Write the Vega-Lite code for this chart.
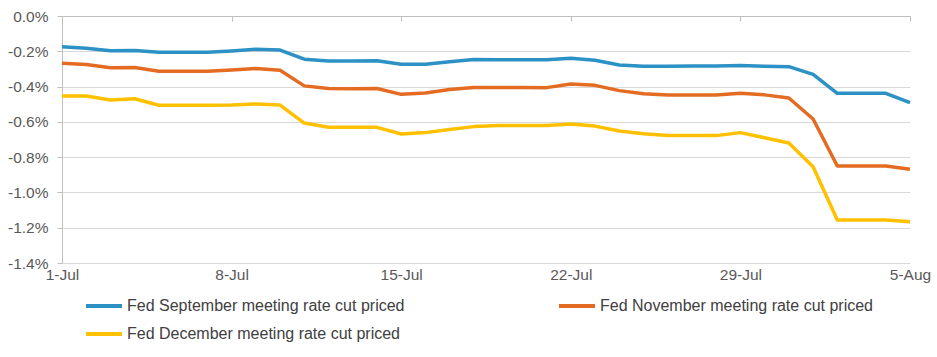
{
  "$schema": "https://vega.github.io/schema/vega-lite/v6.json",
  "width": 848,
  "height": 247,
  "autosize": {"type": "none"},
  "padding": {"left": 62, "top": 16, "right": 27, "bottom": 94},
  "config": {
    "view": {"stroke": null},
    "font": "Liberation Sans"
  },
  "data": {
    "values": [
      {"date": "2024-07-01", "series": "Fed September meeting rate cut priced", "value": -0.174},
      {"date": "2024-07-02", "series": "Fed September meeting rate cut priced", "value": -0.183},
      {"date": "2024-07-03", "series": "Fed September meeting rate cut priced", "value": -0.197},
      {"date": "2024-07-04", "series": "Fed September meeting rate cut priced", "value": -0.196},
      {"date": "2024-07-05", "series": "Fed September meeting rate cut priced", "value": -0.206},
      {"date": "2024-07-06", "series": "Fed September meeting rate cut priced", "value": -0.206},
      {"date": "2024-07-07", "series": "Fed September meeting rate cut priced", "value": -0.206},
      {"date": "2024-07-08", "series": "Fed September meeting rate cut priced", "value": -0.198},
      {"date": "2024-07-09", "series": "Fed September meeting rate cut priced", "value": -0.189},
      {"date": "2024-07-10", "series": "Fed September meeting rate cut priced", "value": -0.193},
      {"date": "2024-07-11", "series": "Fed September meeting rate cut priced", "value": -0.245},
      {"date": "2024-07-12", "series": "Fed September meeting rate cut priced", "value": -0.255},
      {"date": "2024-07-13", "series": "Fed September meeting rate cut priced", "value": -0.255},
      {"date": "2024-07-14", "series": "Fed September meeting rate cut priced", "value": -0.254},
      {"date": "2024-07-15", "series": "Fed September meeting rate cut priced", "value": -0.274},
      {"date": "2024-07-16", "series": "Fed September meeting rate cut priced", "value": -0.274},
      {"date": "2024-07-17", "series": "Fed September meeting rate cut priced", "value": -0.259},
      {"date": "2024-07-18", "series": "Fed September meeting rate cut priced", "value": -0.246},
      {"date": "2024-07-19", "series": "Fed September meeting rate cut priced", "value": -0.248},
      {"date": "2024-07-20", "series": "Fed September meeting rate cut priced", "value": -0.248},
      {"date": "2024-07-21", "series": "Fed September meeting rate cut priced", "value": -0.248},
      {"date": "2024-07-22", "series": "Fed September meeting rate cut priced", "value": -0.240},
      {"date": "2024-07-23", "series": "Fed September meeting rate cut priced", "value": -0.251},
      {"date": "2024-07-24", "series": "Fed September meeting rate cut priced", "value": -0.278},
      {"date": "2024-07-25", "series": "Fed September meeting rate cut priced", "value": -0.285},
      {"date": "2024-07-26", "series": "Fed September meeting rate cut priced", "value": -0.285},
      {"date": "2024-07-27", "series": "Fed September meeting rate cut priced", "value": -0.284},
      {"date": "2024-07-28", "series": "Fed September meeting rate cut priced", "value": -0.284},
      {"date": "2024-07-29", "series": "Fed September meeting rate cut priced", "value": -0.281},
      {"date": "2024-07-30", "series": "Fed September meeting rate cut priced", "value": -0.285},
      {"date": "2024-07-31", "series": "Fed September meeting rate cut priced", "value": -0.287},
      {"date": "2024-08-01", "series": "Fed September meeting rate cut priced", "value": -0.331},
      {"date": "2024-08-02", "series": "Fed September meeting rate cut priced", "value": -0.438},
      {"date": "2024-08-03", "series": "Fed September meeting rate cut priced", "value": -0.438},
      {"date": "2024-08-04", "series": "Fed September meeting rate cut priced", "value": -0.438},
      {"date": "2024-08-05", "series": "Fed September meeting rate cut priced", "value": -0.491},
      {"date": "2024-07-01", "series": "Fed November meeting rate cut priced", "value": -0.268},
      {"date": "2024-07-02", "series": "Fed November meeting rate cut priced", "value": -0.275},
      {"date": "2024-07-03", "series": "Fed November meeting rate cut priced", "value": -0.293},
      {"date": "2024-07-04", "series": "Fed November meeting rate cut priced", "value": -0.292},
      {"date": "2024-07-05", "series": "Fed November meeting rate cut priced", "value": -0.313},
      {"date": "2024-07-06", "series": "Fed November meeting rate cut priced", "value": -0.313},
      {"date": "2024-07-07", "series": "Fed November meeting rate cut priced", "value": -0.313},
      {"date": "2024-07-08", "series": "Fed November meeting rate cut priced", "value": -0.306},
      {"date": "2024-07-09", "series": "Fed November meeting rate cut priced", "value": -0.298},
      {"date": "2024-07-10", "series": "Fed November meeting rate cut priced", "value": -0.308},
      {"date": "2024-07-11", "series": "Fed November meeting rate cut priced", "value": -0.396},
      {"date": "2024-07-12", "series": "Fed November meeting rate cut priced", "value": -0.411},
      {"date": "2024-07-13", "series": "Fed November meeting rate cut priced", "value": -0.412},
      {"date": "2024-07-14", "series": "Fed November meeting rate cut priced", "value": -0.411},
      {"date": "2024-07-15", "series": "Fed November meeting rate cut priced", "value": -0.444},
      {"date": "2024-07-16", "series": "Fed November meeting rate cut priced", "value": -0.436},
      {"date": "2024-07-17", "series": "Fed November meeting rate cut priced", "value": -0.416},
      {"date": "2024-07-18", "series": "Fed November meeting rate cut priced", "value": -0.405},
      {"date": "2024-07-19", "series": "Fed November meeting rate cut priced", "value": -0.405},
      {"date": "2024-07-20", "series": "Fed November meeting rate cut priced", "value": -0.405},
      {"date": "2024-07-21", "series": "Fed November meeting rate cut priced", "value": -0.406},
      {"date": "2024-07-22", "series": "Fed November meeting rate cut priced", "value": -0.385},
      {"date": "2024-07-23", "series": "Fed November meeting rate cut priced", "value": -0.393},
      {"date": "2024-07-24", "series": "Fed November meeting rate cut priced", "value": -0.423},
      {"date": "2024-07-25", "series": "Fed November meeting rate cut priced", "value": -0.441},
      {"date": "2024-07-26", "series": "Fed November meeting rate cut priced", "value": -0.448},
      {"date": "2024-07-27", "series": "Fed November meeting rate cut priced", "value": -0.448},
      {"date": "2024-07-28", "series": "Fed November meeting rate cut priced", "value": -0.448},
      {"date": "2024-07-29", "series": "Fed November meeting rate cut priced", "value": -0.438},
      {"date": "2024-07-30", "series": "Fed November meeting rate cut priced", "value": -0.447},
      {"date": "2024-07-31", "series": "Fed November meeting rate cut priced", "value": -0.465},
      {"date": "2024-08-01", "series": "Fed November meeting rate cut priced", "value": -0.584},
      {"date": "2024-08-02", "series": "Fed November meeting rate cut priced", "value": -0.850},
      {"date": "2024-08-03", "series": "Fed November meeting rate cut priced", "value": -0.850},
      {"date": "2024-08-04", "series": "Fed November meeting rate cut priced", "value": -0.850},
      {"date": "2024-08-05", "series": "Fed November meeting rate cut priced", "value": -0.868},
      {"date": "2024-07-01", "series": "Fed December meeting rate cut priced", "value": -0.454},
      {"date": "2024-07-02", "series": "Fed December meeting rate cut priced", "value": -0.454},
      {"date": "2024-07-03", "series": "Fed December meeting rate cut priced", "value": -0.476},
      {"date": "2024-07-04", "series": "Fed December meeting rate cut priced", "value": -0.469},
      {"date": "2024-07-05", "series": "Fed December meeting rate cut priced", "value": -0.506},
      {"date": "2024-07-06", "series": "Fed December meeting rate cut priced", "value": -0.506},
      {"date": "2024-07-07", "series": "Fed December meeting rate cut priced", "value": -0.506},
      {"date": "2024-07-08", "series": "Fed December meeting rate cut priced", "value": -0.505},
      {"date": "2024-07-09", "series": "Fed December meeting rate cut priced", "value": -0.499},
      {"date": "2024-07-10", "series": "Fed December meeting rate cut priced", "value": -0.505},
      {"date": "2024-07-11", "series": "Fed December meeting rate cut priced", "value": -0.607},
      {"date": "2024-07-12", "series": "Fed December meeting rate cut priced", "value": -0.631},
      {"date": "2024-07-13", "series": "Fed December meeting rate cut priced", "value": -0.631},
      {"date": "2024-07-14", "series": "Fed December meeting rate cut priced", "value": -0.631},
      {"date": "2024-07-15", "series": "Fed December meeting rate cut priced", "value": -0.669},
      {"date": "2024-07-16", "series": "Fed December meeting rate cut priced", "value": -0.661},
      {"date": "2024-07-17", "series": "Fed December meeting rate cut priced", "value": -0.643},
      {"date": "2024-07-18", "series": "Fed December meeting rate cut priced", "value": -0.627},
      {"date": "2024-07-19", "series": "Fed December meeting rate cut priced", "value": -0.620},
      {"date": "2024-07-20", "series": "Fed December meeting rate cut priced", "value": -0.620},
      {"date": "2024-07-21", "series": "Fed December meeting rate cut priced", "value": -0.620},
      {"date": "2024-07-22", "series": "Fed December meeting rate cut priced", "value": -0.612},
      {"date": "2024-07-23", "series": "Fed December meeting rate cut priced", "value": -0.624},
      {"date": "2024-07-24", "series": "Fed December meeting rate cut priced", "value": -0.652},
      {"date": "2024-07-25", "series": "Fed December meeting rate cut priced", "value": -0.667},
      {"date": "2024-07-26", "series": "Fed December meeting rate cut priced", "value": -0.678},
      {"date": "2024-07-27", "series": "Fed December meeting rate cut priced", "value": -0.678},
      {"date": "2024-07-28", "series": "Fed December meeting rate cut priced", "value": -0.678},
      {"date": "2024-07-29", "series": "Fed December meeting rate cut priced", "value": -0.661},
      {"date": "2024-07-30", "series": "Fed December meeting rate cut priced", "value": -0.690},
      {"date": "2024-07-31", "series": "Fed December meeting rate cut priced", "value": -0.720},
      {"date": "2024-08-01", "series": "Fed December meeting rate cut priced", "value": -0.854},
      {"date": "2024-08-02", "series": "Fed December meeting rate cut priced", "value": -1.156},
      {"date": "2024-08-03", "series": "Fed December meeting rate cut priced", "value": -1.156},
      {"date": "2024-08-04", "series": "Fed December meeting rate cut priced", "value": -1.156},
      {"date": "2024-08-05", "series": "Fed December meeting rate cut priced", "value": -1.166}
    ]
  },
  "resolve": {"axis": {"x": "independent"}},
  "layer": [
    {
      "mark": {"type": "rule", "opacity": 0},
      "encoding": {
        "x": {
          "field": "date",
          "type": "temporal",
          "scale": {
            "type": "utc",
            "domain": [
              {"year": 2024, "month": 7, "date": 1, "utc": true},
              {"year": 2024, "month": 8, "date": 5, "utc": true}
            ]
          },
          "axis": {
            "orient": "top",
            "title": null,
            "labels": false,
            "grid": false,
            "values": [
              {"year": 2024, "month": 7, "date": 1, "utc": true},
              {"year": 2024, "month": 7, "date": 8, "utc": true},
              {"year": 2024, "month": 7, "date": 15, "utc": true},
              {"year": 2024, "month": 7, "date": 22, "utc": true},
              {"year": 2024, "month": 7, "date": 29, "utc": true},
              {"year": 2024, "month": 8, "date": 5, "utc": true}
            ],
            "tickSize": -5,
            "tickColor": "#bfbfbf",
            "domainColor": "#bfbfbf"
          }
        }
      }
    },
    {
      "mark": {"type": "line", "strokeWidth": 3.5, "strokeJoin": "round", "clip": false},
      "encoding": {
        "x": {
          "field": "date",
          "type": "temporal",
          "scale": {
            "type": "utc",
            "domain": [
              {"year": 2024, "month": 7, "date": 1, "utc": true},
              {"year": 2024, "month": 8, "date": 5, "utc": true}
            ]
          },
          "axis": {
            "orient": "bottom",
            "title": null,
            "format": "%-d-%b",
            "values": [
              {"year": 2024, "month": 7, "date": 1, "utc": true},
              {"year": 2024, "month": 7, "date": 8, "utc": true},
              {"year": 2024, "month": 7, "date": 15, "utc": true},
              {"year": 2024, "month": 7, "date": 22, "utc": true},
              {"year": 2024, "month": 7, "date": 29, "utc": true},
              {"year": 2024, "month": 8, "date": 5, "utc": true}
            ],
            "domain": false,
            "ticks": false,
            "grid": false,
            "labelFontSize": 15.5,
            "labelColor": "#595959",
            "labelPadding": 4,
            "labelOverlap": false,
            "labelFlush": false,
            "labelBound": false
          }
        },
        "y": {
          "field": "value",
          "type": "quantitative",
          "scale": {"domain": [-1.4, 0], "nice": false, "zero": false},
          "axis": {
            "title": null,
            "values": [0, -0.2, -0.4, -0.6, -0.8, -1.0, -1.2, -1.4],
            "labelExpr": "replace(format(datum.value, '.1f'), '\u2212', '-') + '%'",
            "labelFontSize": 15.5,
            "labelColor": "#595959",
            "labelPadding": 9,
            "tickSize": 5,
            "tickColor": "#bfbfbf",
            "domainColor": "#bfbfbf",
            "gridColor": "#d9d9d9",
            "grid": true
          }
        },
        "color": {
          "field": "series",
          "type": "nominal",
          "scale": {
            "domain": [
              "Fed September meeting rate cut priced",
              "Fed November meeting rate cut priced",
              "Fed December meeting rate cut priced"
            ],
            "range": ["#2c91c5", "#e46c22", "#ffc000"]
          },
          "legend": {
            "title": null,
            "orient": "none",
            "direction": "horizontal",
            "legendX": 22,
            "legendY": 270,
            "columns": 2,
            "columnPadding": 146,
            "rowPadding": -9,
            "padding": 0,
            "symbolType": "stroke",
            "symbolStrokeWidth": 4,
            "symbolSize": 1296,
            "labelFontSize": 16,
            "labelColor": "#404040",
            "labelOffset": 3,
            "labelLimit": 0
          }
        }
      }
    }
  ]
}
